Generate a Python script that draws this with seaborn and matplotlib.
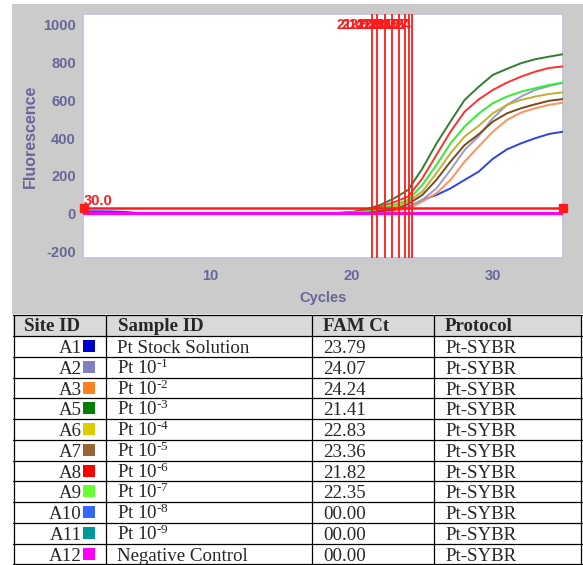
import matplotlib
matplotlib.use("Agg")
import numpy as np
import pandas as pd
import seaborn as sns
import matplotlib.pyplot as plt
from matplotlib.patches import Rectangle
from matplotlib.ticker import MultipleLocator

# ---------------- data ----------------
cycles = list(range(1, 36))

site_ids = ["A1", "A2", "A3", "A5", "A6", "A7", "A8", "A9", "A10", "A11", "A12"]
sample_ids = ["Pt Stock Solution", "Pt 10$^{\u20101}$", "Pt 10$^{\u20102}$",
              "Pt 10$^{\u20103}$", "Pt 10$^{\u20104}$", "Pt 10$^{\u20105}$",
              "Pt 10$^{\u20106}$", "Pt 10$^{\u20107}$", "Pt 10$^{\u20108}$",
              "Pt 10$^{\u20109}$", "Negative Control"]
fam_ct = [23.79, 24.07, 24.24, 21.41, 22.83, 23.36, 21.82, 22.35, 0.00, 0.00, 0.00]
protocol = ["Pt-SYBR"] * 11
threshold = 30.0

site_colors = ["#0000cc", "#8080c0", "#ff8020", "#008000", "#ddcc00", "#996633",
               "#ff0000", "#66ff33", "#3366ff", "#009999", "#ff00ff"]
curve_colors = ["#3040ee", "#9a9ad0", "#ff9060", "#2f7f2f", "#c0b030", "#7a4a1a",
                "#ff3030", "#30ee30", "#3366ff", "#009999", "#ff00ff"]

fluor_A1 = [12, 12, 11, 8, 1, 0, 0, 0, 0, 0, 0, 0, 0, 0, 0, 0, 0, 0,
            1, 2, 5, 10, 18, 33, 72, 98, 133, 178, 222, 290, 340, 372, 399, 422, 434]
fluor_A2 = [0, 0, 0, 0, 0, 0, 0, 0, 0, 0, 0, 0, 0, 0, 0, 0, 0, 0,
            1, 2, 5, 9, 16, 29, 72, 133, 231, 337, 410, 505, 576, 620, 655, 676, 694]
fluor_A3 = [0, 0, 0, 0, 0, 0, 0, 0, 0, 0, 0, 0, 0, 0, 0, 0, 0, 0,
            1, 2, 4, 8, 14, 24, 63, 107, 178, 275, 355, 434, 496, 535, 558, 576, 588]
fluor_A5 = [0, 0, 0, 0, 0, 0, 0, 0, 0, 0, 0, 0, 0, 0, 0, 0, 0, 1,
            3, 8, 22, 45, 80, 125, 238, 370, 488, 602, 672, 735, 767, 797, 818, 832, 845]
fluor_A6 = [0, 0, 0, 0, 0, 0, 0, 0, 0, 0, 0, 0, 0, 0, 0, 0, 0, 0,
            1, 4, 9, 18, 33, 63, 116, 213, 320, 408, 465, 531, 576, 602, 620, 634, 643]
fluor_A7 = [0, 0, 0, 0, 0, 0, 0, 0, 0, 0, 0, 0, 0, 0, 0, 0, 0, 0,
            1, 3, 7, 13, 20, 50, 98, 178, 275, 363, 420, 487, 531, 558, 579, 598, 607]
fluor_A8 = [0, 0, 0, 0, 0, 0, 0, 0, 0, 0, 0, 0, 0, 0, 0, 0, 0, 0,
            2, 6, 17, 36, 60, 90, 186, 310, 434, 540, 605, 655, 694, 726, 752, 772, 780]
fluor_A9 = [0, 0, 0, 0, 0, 0, 0, 0, 0, 0, 0, 0, 0, 0, 0, 0, 0, 0,
            1, 5, 12, 25, 45, 72, 151, 257, 372, 461, 530, 585, 620, 646, 664, 682, 694]
fluor_A10 = [0, 0, 0, 0, 0, 0, 0, 0, 0, 0, 0, 0, 0, 0, 0, 0, 0, 0,
             0, 0, 0, 0, 0, 0, 0, 0, 0, 0, 0, 0, 0, 0, 0, 0, 0]
fluor_A11 = [0, 0, 0, 0, 0, 0, 0, 0, 0, 0, 0, 0, 0, 0, 0, 0, 0, 0,
             0, 0, 0, 0, 0, 0, 0, 0, 0, 0, 0, 0, 0, 0, 0, 0, 0]
fluor_A12 = [0, 0, 0, 0, 0, 0, 0, 0, 0, 0, 0, 0, 0, 0, 0, 0, 0, 0,
             0, 0, 0, 0, 0, 0, 0, 0, 0, 0, 0, 0, 0, 0, 0, 0, 0]

y_ticks = [-200, 0, 200, 400, 600, 800, 1000]
y_tick_labels = ["-200", "0", "200", "400", "600", "800", "1000"]
x_ticks = [10, 20, 30]
x_tick_labels = ["10", "20", "30"]

header = ["Site ID", "Sample ID", "FAM Ct", "Protocol"]

# ---------------- style ----------------
sns.set_style("white")
plt.rcParams["font.family"] = ["Liberation Sans", "DejaVu Sans"]
plt.rcParams["axes.unicode_minus"] = False
plt.rcParams["mathtext.fontset"] = "custom"
plt.rcParams["mathtext.rm"] = "Liberation Serif"
plt.rcParams["mathtext.it"] = "Liberation Serif:italic"
plt.rcParams["mathtext.bf"] = "Liberation Serif:bold"

W, H = 583, 565
fig = plt.figure(figsize=(W / 100, H / 100), dpi=100, facecolor="white")

# gray panel behind the chart
fig.patches.append(Rectangle((12 / W, (H - 314) / H), 571 / W, 310 / H,
                             transform=fig.transFigure, facecolor="#cbcbcb",
                             edgecolor="none", zorder=-10))

ax = fig.add_axes([82.7 / W, (H - 258) / H, 480.6 / W, 244 / H])
ax.set_zorder(2)
ax.set_facecolor("white")

series = [fluor_A1, fluor_A2, fluor_A3, fluor_A5, fluor_A6, fluor_A7, fluor_A8,
          fluor_A9, fluor_A10, fluor_A11, fluor_A12]
rows = []
for sid, vals in zip(site_ids, series):
    for c, v in zip(cycles, vals):
        rows.append({"Cycle": c, "Fluorescence": v, "Site": sid})
df = pd.DataFrame(rows)

palette = dict(zip(site_ids, curve_colors))
curve_sites = site_ids[:-1]
sns.lineplot(data=df[df["Site"].isin(curve_sites)], x="Cycle", y="Fluorescence",
             hue="Site", hue_order=curve_sites, palette=palette, legend=False,
             errorbar=None, linewidth=1.4, ax=ax, zorder=3)
# negative control on top
sns.lineplot(data=df[df["Site"] == "A12"], x="Cycle", y="Fluorescence",
             color=palette["A12"], linewidth=2.3, legend=False, errorbar=None,
             ax=ax, zorder=4)

ax.set_xlim(0.92, 35.0)
ax.set_ylim(-236, 1058)

# Ct lines and labels
ct_color = "#ff1a1a"
for ct in fam_ct:
    if ct > 0:
        ax.axvline(ct, color=ct_color, linewidth=1.3, zorder=5)
        ax.text(ct - 0.05, 1000, f"{ct:.2f}", color=ct_color, fontsize=10,
                fontweight="bold", ha="right", va="center", zorder=6)

# threshold line
ax.plot([cycles[0], cycles[-1]], [threshold, threshold], color="#ff1a1a",
        linewidth=1.8, marker="s", markersize=6, markevery=[0, 1], zorder=6,
        clip_on=False)
ax.text(cycles[0], threshold + 17, f"{threshold:.1f}", color="#ff1a1a",
        fontsize=10.5, fontweight="bold", ha="left", va="baseline", zorder=7)

tick_col = "#66669a"
ax.set_yticks(y_ticks)
ax.set_yticklabels(y_tick_labels, fontsize=10.5, fontweight="bold", color=tick_col)
ax.yaxis.set_minor_locator(MultipleLocator(100))
ax.set_xticks(x_ticks)
ax.set_xticklabels(x_tick_labels, fontsize=10.5, fontweight="bold", color=tick_col)
ax.xaxis.set_minor_locator(MultipleLocator(5))
ax.tick_params(axis="y", which="both", direction="out", length=3.5, width=1,
               color="#8a8ab0", pad=1.5)
ax.tick_params(axis="x", which="both", direction="in", length=3, width=0.8,
               color="#c8c8dc", pad=8)
ax.set_xlabel("Cycles", fontsize=10.5, fontweight="bold", color=tick_col,
              labelpad=6)
ax.set_ylabel("Fluorescence", fontsize=11.5, fontweight="bold", color=tick_col,
              labelpad=4)
for sp in ax.spines.values():
    sp.set_color("#c4c4d8")
    sp.set_linewidth(1.3)
    sp.set_visible(True)

# ---------------- table ----------------
tx0, tx1 = 13, 582
ty0 = 315
head_h = 21
row_h = 20.75
n_body = len(site_ids)
ty1 = ty0 + head_h + row_h * n_body
axt = fig.add_axes([tx0 / W, (H - ty1) / H, (tx1 - tx0) / W, (ty1 - ty0) / H])
axt.set_zorder(1)
axt.set_xlim(tx0, tx1)
axt.set_ylim(ty1, ty0)
axt.axis("off")

axt.add_patch(Rectangle((tx0, ty0), tx1 - tx0, head_h, facecolor="#d9d9d9",
                        edgecolor="none"))
axt.add_patch(Rectangle((tx0, ty0 + head_h), tx1 - tx0, ty1 - ty0 - head_h,
                        facecolor="white", edgecolor="none"))
col_x = [13.5, 106.5, 312, 434, 581.5]
line_y = [ty0] + [ty0 + head_h + i * row_h for i in range(n_body + 1)]
for y in line_y:
    axt.plot([tx0, tx1], [y, y], color="black", linewidth=0.9, clip_on=False)
for x in col_x:
    axt.plot([x, x], [ty0, ty1], color="black", linewidth=0.9, clip_on=False)

serif = ["Liberation Serif", "DejaVu Serif"]
fs = 13.6
text_x = [24, 118, 323, 445]
for hx, htxt in zip(text_x, header):
    axt.text(hx, ty0 + head_h - 5, htxt, fontsize=fs, fontweight="bold",
             family=serif, ha="left", va="baseline")

for i, (sid, samp, ct, prot, col) in enumerate(zip(site_ids, sample_ids, fam_ct,
                                                    protocol, site_colors)):
    top = ty0 + head_h + row_h * i
    base = top + row_h - 3.6
    axt.text(82, base, sid, fontsize=fs, family=serif, ha="right", va="baseline")
    axt.add_patch(Rectangle((83.5, top + 4), 12, 12, facecolor=col,
                            edgecolor="none"))
    axt.text(117, base, samp, fontsize=fs, family=serif, ha="left", va="baseline")
    axt.text(323, base, f"{ct:05.2f}", fontsize=fs, family=serif, ha="left",
             va="baseline")
    axt.text(445, base, prot, fontsize=fs, family=serif, ha="left", va="baseline")

fig.savefig("out.png", dpi=100, facecolor="white")
